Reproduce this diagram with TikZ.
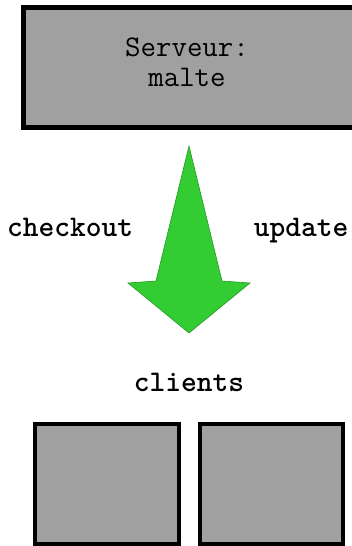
\documentclass[tikz,border=0pt]{standalone}
\usepackage{fontspec}
\begin{document}
\begin{tikzpicture}[x=1pt,y=-1pt,
  graybox/.style={draw=black, fill=boxgray, rectangle, inner sep=0pt},
  servtext/.style={font=\fontsize{30}{34}\ttfamily, anchor=base, inner sep=0pt},
  lbl/.style={font=\fontsize{30}{34}\ttfamily\bfseries, anchor=base, inner sep=0pt}]
\definecolor{boxgray}{HTML}{A0A0A0}
\definecolor{arrowgreen}{HTML}{33CC33}
\definecolor{arrowedge}{HTML}{229922}
\useasboundingbox (0,0) rectangle (352,546);

% server box (runs past the right edge)
\node[graybox, line width=5pt, minimum width=332.5pt, minimum height=120pt]
  (server) at (189.75,67.5) {};
\node[servtext] (servname) at (187,56.7) {Serveur:};
\node[servtext] (servhost) at (187,86) {malte};

% the two client boxes
\node[graybox, line width=4pt, minimum width=144pt, minimum height=120pt]
  (clientA) at (107,484) {};
\node[graybox, line width=4pt, minimum width=143pt, minimum height=120pt]
  (clientB) at (271.5,484) {};

% labels
\node[lbl] (checkout) at (70,236) {checkout};
\node[lbl] (update) at (301,236) {update};
\node[lbl] (clients) at (189,391) {clients};

% big down arrow
\coordinate (tip) at (189,146);
\coordinate (head) at (189,333);
\fill[arrowgreen, draw=arrowedge, line width=0.6pt, line join=miter]
  (tip) -- (222,281) -- (250,283) -- (head) -- (128,283) -- (156,281) -- cycle;
\end{tikzpicture}
\end{document}
